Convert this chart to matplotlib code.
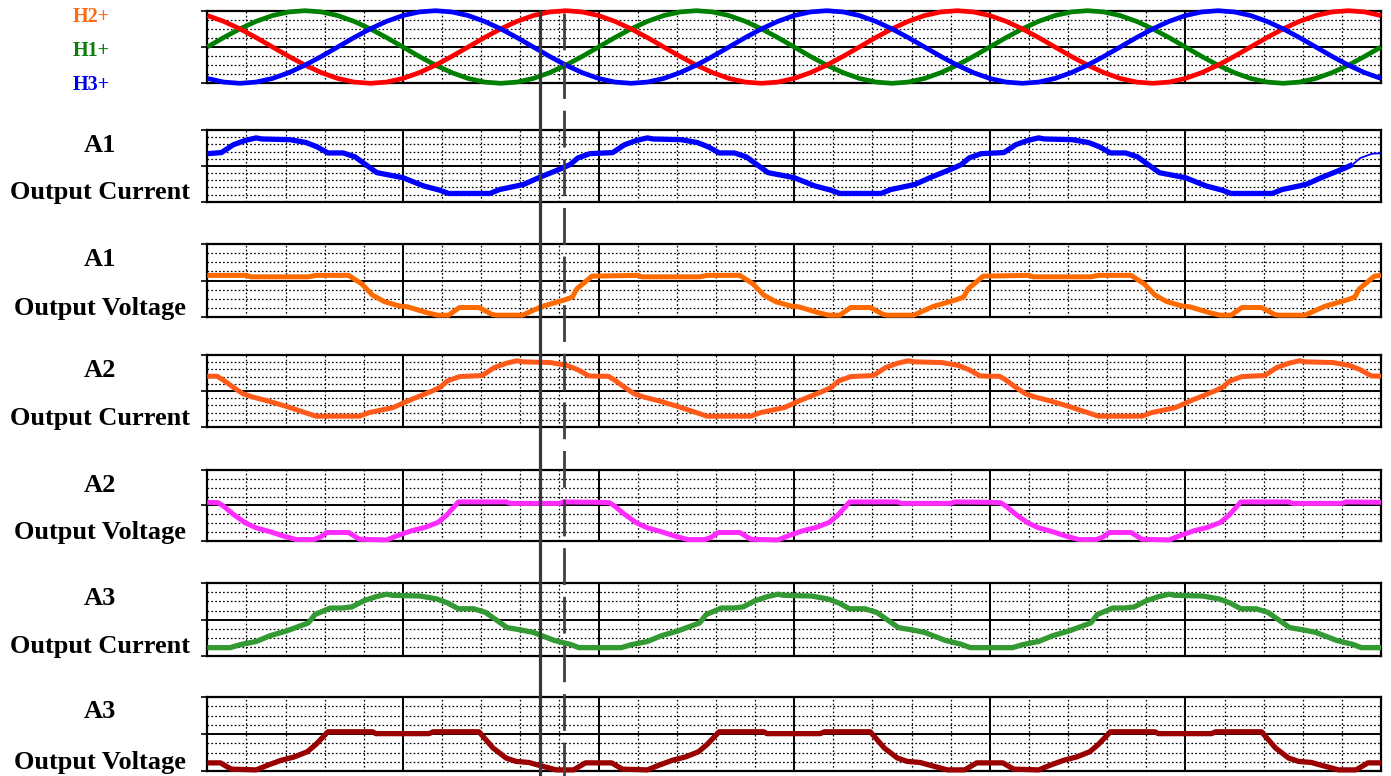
import matplotlib
matplotlib.use('Agg')
import matplotlib.pyplot as plt

plt.rcParams['lines.scale_dashes'] = False

# ---------------- data (x in electrical degrees, y normalised to panel half-height) -------------
SINE_X = [0, 15, 30, 45, 60, 75, 90, 105, 120, 135, 150, 165, 180, 195, 210, 225, 240, 255, 270,
          285, 300, 315, 330, 345, 360, 375, 390, 405, 420, 435, 450, 465, 480, 495, 510, 525, 540,
          555, 570, 585, 600, 615, 630, 645, 660, 675, 690, 705, 720, 735, 750, 765, 780, 795, 810,
          825, 840, 855, 870, 885, 900, 915, 930, 945, 960, 975, 990, 1005, 1020, 1035, 1050, 1065, 1080]
H1 = [0, .259, .5, .707, .866, .966, 1, .966, .866, .707, .5, .259, 0, -.259, -.5, -.707, -.866, -.966, -1, -.966, -.866, -.707, -.5, -.259,
      0, .259, .5, .707, .866, .966, 1, .966, .866, .707, .5, .259, 0, -.259, -.5, -.707, -.866, -.966, -1, -.966, -.866, -.707, -.5, -.259,
      0, .259, .5, .707, .866, .966, 1, .966, .866, .707, .5, .259, 0, -.259, -.5, -.707, -.866, -.966, -1, -.966, -.866, -.707, -.5, -.259,
      0]
H2 = [.866, .707, .5, .259, 0, -.259, -.5, -.707, -.866, -.966, -1, -.966, -.866, -.707, -.5, -.259, 0, .259, .5, .707, .866, .966, 1, .966,
      .866, .707, .5, .259, 0, -.259, -.5, -.707, -.866, -.966, -1, -.966, -.866, -.707, -.5, -.259, 0, .259, .5, .707, .866, .966, 1, .966,
      .866, .707, .5, .259, 0, -.259, -.5, -.707, -.866, -.966, -1, -.966, -.866, -.707, -.5, -.259, 0, .259, .5, .707, .866, .966, 1, .966,
      .866]
H3 = [-.866, -.966, -1, -.966, -.866, -.707, -.5, -.259, 0, .259, .5, .707, .866, .966, 1, .966, .866, .707, .5, .259, 0, -.259, -.5, -.707,
      -.866, -.966, -1, -.966, -.866, -.707, -.5, -.259, 0, .259, .5, .707, .866, .966, 1, .966, .866, .707, .5, .259, 0, -.259, -.5, -.707,
      -.866, -.966, -1, -.966, -.866, -.707, -.5, -.259, 0, .259, .5, .707, .866, .966, 1, .966, .866, .707, .5, .259, 0, -.259, -.5, -.707,
      -.866]

A1I_X = [0, 13, 24, 35, 45, 50, 76, 91, 101, 111, 125, 136, 156, 168, 180, 199, 214, 222, 260, 269, 291, 305, 327, 334, 341, 352,
         373, 384, 395, 405, 410, 436, 451, 461, 471, 485, 496, 516, 528, 540, 559, 574, 582, 620, 629, 651, 665, 687, 694, 701, 712,
         733, 744, 755, 765, 770, 796, 811, 821, 831, 845, 856, 876, 888, 900, 919, 934, 942, 980, 989, 1011, 1025, 1047, 1054, 1061, 1072, 1080]
A1I_Y = [.34, .37, .59, .71, .78, .75, .73, .65, .53, .36, .36, .25, -.19, -.26, -.33, -.56, -.68, -.77, -.77, -.66, -.52, -.33, -.06, .04, .22, .34,
         .37, .59, .71, .78, .75, .73, .65, .53, .36, .36, .25, -.19, -.26, -.33, -.56, -.68, -.77, -.77, -.66, -.52, -.33, -.06, .04, .22, .34,
         .37, .59, .71, .78, .75, .73, .65, .53, .36, .36, .25, -.19, -.26, -.33, -.56, -.68, -.77, -.77, -.66, -.52, -.33, -.06, .04, .22, .34, .35]

A1V_X = [0, 36, 40, 93, 100, 130, 142, 152, 163, 177, 184, 202, 212, 222, 232, 250, 262, 266, 290, 308, 330, 336, 340, 354,
         396, 400, 453, 460, 490, 502, 512, 523, 537, 544, 562, 572, 582, 592, 610, 622, 626, 650, 668, 690, 696, 700, 714,
         756, 760, 813, 820, 850, 862, 872, 883, 897, 904, 922, 932, 942, 952, 970, 982, 986, 1010, 1028, 1050, 1056, 1060, 1074, 1080]
A1V_Y = [.14, .14, .10, .10, .14, .14, -.09, -.40, -.58, -.70, -.72, -.88, -.95, -.95, -.74, -.74, -.93, -.95, -.95, -.71, -.52, -.45, -.23, .12,
         .14, .10, .10, .14, .14, -.09, -.40, -.58, -.70, -.72, -.88, -.95, -.95, -.74, -.74, -.93, -.95, -.95, -.71, -.52, -.45, -.23, .12,
         .14, .10, .10, .14, .14, -.09, -.40, -.58, -.70, -.72, -.88, -.95, -.95, -.74, -.74, -.93, -.95, -.95, -.71, -.52, -.45, -.23, .12, .14]

A2I_X = [0, 9, 15, 24, 33, 42, 55, 73, 88, 100, 140, 149, 171, 185, 207, 214, 221, 232, 253, 264, 275, 285, 290, 316, 331, 341, 351,
         360, 369, 375, 384, 393, 402, 415, 433, 448, 460, 500, 509, 531, 545, 567, 574, 581, 592, 613, 624, 635, 645, 650, 676, 691, 701, 711,
         720, 729, 735, 744, 753, 762, 775, 793, 808, 820, 860, 869, 891, 905, 927, 934, 941, 952, 973, 984, 995, 1005, 1010, 1036, 1051, 1061, 1071, 1080]
A2I_Y = [.41, .41, .30, .10, -.08, -.17, -.27, -.43, -.58, -.70, -.70, -.60, -.46, -.27, .00, .10, .28, .40, .43, .65, .77, .84, .81, .79, .71, .59, .42,
         .41, .41, .30, .10, -.08, -.17, -.27, -.43, -.58, -.70, -.70, -.60, -.46, -.27, .00, .10, .28, .40, .43, .65, .77, .84, .81, .79, .71, .59, .42,
         .41, .41, .30, .10, -.08, -.17, -.27, -.43, -.58, -.70, -.70, -.60, -.46, -.27, .00, .10, .28, .40, .43, .65, .77, .84, .81, .79, .71, .59, .42, .41]

A2V_X = [0, 10, 15, 24, 35, 45, 58, 70, 82, 98, 104, 110, 130, 140, 165, 175, 188, 200, 212, 220, 231, 275, 279, 324, 328,
         360, 370, 375, 384, 395, 405, 418, 430, 442, 458, 464, 470, 490, 500, 525, 535, 548, 560, 572, 580, 591, 635, 639, 684, 688,
         720, 730, 735, 744, 755, 765, 778, 790, 802, 818, 824, 830, 850, 860, 885, 895, 908, 920, 932, 940, 951, 995, 999, 1044, 1048, 1080]
A2V_Y = [.09, .08, -.02, -.25, -.49, -.63, -.74, -.86, -.96, -.96, -.89, -.76, -.76, -.95, -.97, -.85, -.71, -.62, -.48, -.28, .10, .10, .06, .06, .10,
         .09, .08, -.02, -.25, -.49, -.63, -.74, -.86, -.96, -.96, -.89, -.76, -.76, -.95, -.97, -.85, -.71, -.62, -.48, -.28, .10, .10, .06, .06, .10,
         .09, .08, -.02, -.25, -.49, -.63, -.74, -.86, -.96, -.96, -.89, -.76, -.76, -.95, -.97, -.85, -.71, -.62, -.48, -.28, .10, .10, .06, .06, .10, .09]

A3I_X = [0, 21, 30, 45, 58, 73, 93, 99, 110, 113, 124, 133, 144, 155, 165, 170, 196, 211, 221, 231, 245, 256, 276, 288, 300, 319, 334, 342,
         381, 390, 405, 418, 433, 453, 459, 470, 473, 484, 493, 504, 515, 525, 530, 556, 571, 581, 591, 605, 616, 636, 648, 660, 679, 694, 702,
         741, 750, 765, 778, 793, 813, 819, 830, 833, 844, 853, 864, 875, 885, 890, 916, 931, 941, 951, 965, 976, 996, 1008, 1020, 1039, 1054, 1062, 1080]
A3I_Y = [-.77, -.77, -.69, -.60, -.44, -.31, -.09, .14, .28, .32, .32, .35, .52, .63, .70, .67, .65, .57, .46, .30, .30, .20, -.22, -.28, -.35, -.57, -.68, -.77,
         -.77, -.69, -.60, -.44, -.31, -.09, .14, .28, .32, .32, .35, .52, .63, .70, .67, .65, .57, .46, .30, .30, .20, -.22, -.28, -.35, -.57, -.68, -.77,
         -.77, -.69, -.60, -.44, -.31, -.09, .14, .28, .32, .32, .35, .52, .63, .70, .67, .65, .57, .46, .30, .30, .20, -.22, -.28, -.35, -.57, -.68, -.77, -.77]

A3V_X = [0, 12, 22, 45, 55, 68, 80, 92, 100, 111, 152, 155, 204, 208, 250, 263, 275, 284, 296, 302, 321, 337, 348,
         372, 382, 405, 415, 428, 440, 452, 460, 471, 512, 515, 564, 568, 610, 623, 635, 644, 656, 662, 681, 697, 708,
         732, 742, 765, 775, 788, 800, 812, 820, 831, 872, 875, 924, 928, 970, 983, 995, 1004, 1016, 1022, 1041, 1057, 1068, 1080]
A3V_Y = [-.78, -.78, -.95, -.97, -.85, -.71, -.62, -.48, -.28, .06, .06, .01, .01, .06, .06, -.38, -.65, -.74, -.77, -.82, -.97, -.97, -.78,
         -.78, -.95, -.97, -.85, -.71, -.62, -.48, -.28, .06, .06, .01, .01, .06, .06, -.38, -.65, -.74, -.77, -.82, -.97, -.97, -.78,
         -.78, -.95, -.97, -.85, -.71, -.62, -.48, -.28, .06, .06, .01, .01, .06, .06, -.38, -.65, -.74, -.77, -.82, -.97, -.97, -.78, -.78]

CURSOR_SOLID = 306
CURSOR_DASHED = 328
A1I_THIN_FROM = 1054

HALL_LABELS = ['H2+', 'H1+', 'H3+']
HALL_COLORS = ['#ff6a13', '#0a7d0a', '#0000f0']
PANEL_NAMES = ['A1', 'A1', 'A2', 'A2', 'A3', 'A3']
PANEL_KINDS = ['Output Current', 'Output Voltage', 'Output Current', 'Output Voltage',
               'Output Current', 'Output Voltage']

# ---------------- layout ----------------
W, H = 1391, 776
fig = plt.figure(figsize=(W / 100, H / 100), dpi=100)
LEFT, RIGHT = 207.3, 1381
PANELS = [(10.7, 83.3, 4), (130, 201.7, 5), (244, 317, 4), (355, 427, 5),
          (470, 541, 4), (583.3, 656, 4), (697, 771, 4)]

SERIF = ['Liberation Serif', 'DejaVu Serif']


def make_panel(top, bottom, ndiv):
    ax = fig.add_axes([LEFT / W, 1 - bottom / H, (RIGHT - LEFT) / W, (bottom - top) / H])
    ax.set_xlim(0, 1080)
    ax.set_ylim(-1, 1)
    for xv in range(36, 1080, 36):
        if xv % 180:
            ax.axvline(xv, color='black', lw=0.9, ls=(0, (1.2, 1.6)), zorder=1)
        else:
            ax.axvline(xv, color='black', lw=1.4, zorder=1)
    for k in range(1, ndiv):
        for s in (1, -1):
            ax.axhline(s * k / ndiv, color='black', lw=0.9, ls=(0, (1.2, 1.6)), zorder=1)
    ax.axhline(0, color='black', lw=1.4, zorder=1)
    for sp in ax.spines.values():
        sp.set_linewidth(1.6)
    ax.set_xticks([])
    ax.set_yticks([-1, 0, 1])
    ax.tick_params(axis='y', length=4, width=1.2, direction='out', labelleft=False)
    return ax


axes = [make_panel(*p) for p in PANELS]

kw = dict(solid_capstyle='butt', solid_joinstyle='round', clip_on=False, zorder=3)

ax0 = axes[0]
ax0.plot(SINE_X, H1, color='#008000', lw=3.4, **kw)
ax0.plot(SINE_X, H2, color='#ff0000', lw=3.4, **kw)
ax0.plot(SINE_X, H3, color='#0000ff', lw=3.4, **kw)

i_thin = A1I_X.index(A1I_THIN_FROM)
axes[1].plot(A1I_X[:i_thin + 1], A1I_Y[:i_thin + 1], color='#0000ff', lw=3.8, **kw)
axes[1].plot(A1I_X[i_thin:], A1I_Y[i_thin:], color='#0000ff', lw=1.3, **kw)
axes[2].plot(A1V_X, A1V_Y, color='#ff6a00', lw=3.6, **kw)
axes[3].plot(A2I_X, A2I_Y, color='#ff5a1a', lw=3.6, **kw)
axes[4].plot(A2V_X, A2V_Y, color='#ff2cff', lw=3.6, **kw)
axes[5].plot(A3I_X, A3I_Y, color='#339933', lw=3.8, **kw)
axes[6].plot(A3V_X, A3V_Y, color='#990000', lw=3.8, **kw)

# cursor lines over the whole stack
ov = fig.add_axes([LEFT / W, 0, (RIGHT - LEFT) / W, 1 - 10 / H])
ov.set_xlim(0, 1080)
ov.set_ylim(0, 1)
ov.axis('off')
ov.patch.set_alpha(0)
ov.plot([CURSOR_SOLID, CURSOR_SOLID], [1, 0], color='#383838', lw=2.3, solid_capstyle='butt', zorder=5)
ov.plot([CURSOR_DASHED, CURSOR_DASHED], [0.996, 0], color='#404040', lw=2.0,
        dashes=(26.5, 8.5), dash_capstyle='butt', zorder=5)

# labels
for lab, col, yc in zip(HALL_LABELS, HALL_COLORS, [17, 50, 85]):
    fig.text(91 / W, 1 - (yc + 5.5) / H, lab, color=col, fontsize=14.5, fontweight='bold',
             family=SERIF, ha='center', va='baseline')

for (top, bottom, _), name, kind in zip(PANELS[1:], PANEL_NAMES, PANEL_KINDS):
    fig.text(100 / W, 1 - (top + 21.5) / H, name, fontsize=19, fontweight='bold',
             family=SERIF, ha='center', va='baseline')
    fig.text(100 / W, 1 - (bottom - 2.5) / H, kind, fontsize=19, fontweight='bold',
             family=SERIF, ha='center', va='baseline')

fig.savefig('out.png', dpi=100)
